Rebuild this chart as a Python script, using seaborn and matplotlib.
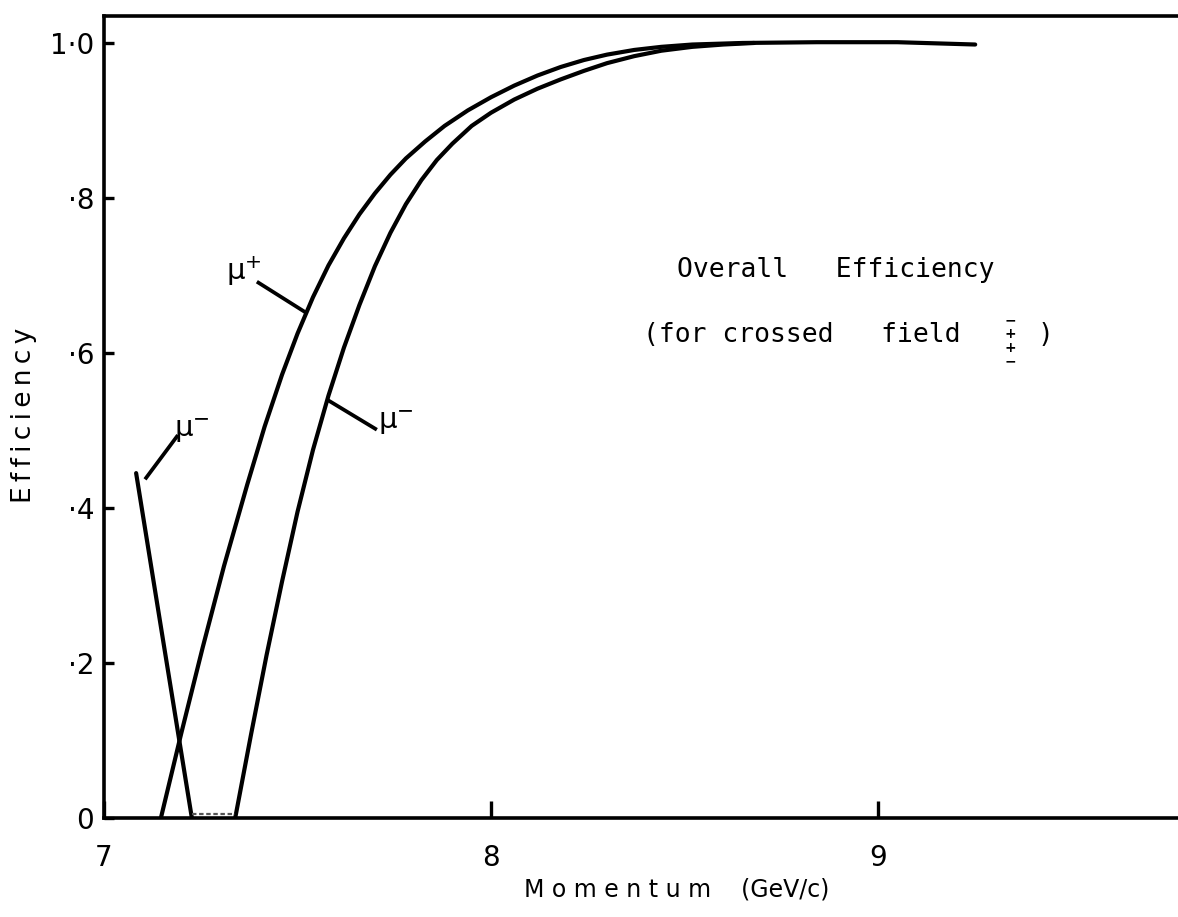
import matplotlib
matplotlib.use("Agg")
import matplotlib.pyplot as plt
import seaborn as sns
import pandas as pd

# Overall efficiency vs momentum for the two muon charges
momentum_mu_plus = [7.147, 7.200, 7.255, 7.310, 7.370, 7.415, 7.460, 7.500, 7.540,
                    7.580, 7.620, 7.660, 7.700, 7.740, 7.780, 7.830, 7.880, 7.940,
                    8.000, 8.060, 8.120, 8.180, 8.240, 8.300, 8.370, 8.440, 8.520,
                    8.650, 8.842, 9.050, 9.251]
eff_mu_plus = [0.000, 0.110, 0.220, 0.325, 0.430, 0.505, 0.572, 0.625, 0.672,
               0.713, 0.748, 0.779, 0.806, 0.830, 0.851, 0.873, 0.893, 0.913,
               0.930, 0.945, 0.958, 0.969, 0.978, 0.985, 0.991, 0.995, 0.998,
               1.000, 1.001, 1.001, 0.998]

momentum_mu_minus = [7.339, 7.380, 7.420, 7.460, 7.500, 7.540, 7.580, 7.620, 7.660,
                     7.700, 7.740, 7.780, 7.820, 7.860, 7.900, 7.950, 8.000, 8.060,
                     8.120, 8.180, 8.240, 8.300, 8.370, 8.440, 8.520, 8.600, 8.680]
eff_mu_minus = [0.000, 0.108, 0.210, 0.305, 0.395, 0.475, 0.545, 0.607, 0.662,
                0.712, 0.755, 0.792, 0.823, 0.849, 0.870, 0.893, 0.910, 0.927,
                0.941, 0.953, 0.964, 0.974, 0.983, 0.990, 0.995, 0.998, 1.000]

# low-momentum branch of the mu- efficiency
momentum_mu_minus_low = [7.083, 7.155, 7.227]
eff_mu_minus_low = [0.445, 0.222, 0.000]

# zero-efficiency gap between the two mu- branches
gap_momentum = [7.227, 7.339]
gap_eff = [0.005, 0.005]

x_ticks = [7, 8, 9]
x_tick_labels = ["7", "8", "9"]
y_ticks = [0.0, 0.2, 0.4, 0.6, 0.8, 1.0]
y_tick_labels = ["0", "\u00b72", "\u00b74", "\u00b76", "\u00b78", "1\u00b70"]

sns.set_style("white")
plt.rcParams["font.family"] = ["DejaVu Sans"]
plt.rcParams["mathtext.fontset"] = "dejavusans"
plt.rcParams["text.color"] = "black"
plt.rcParams["axes.labelcolor"] = "black"
plt.rcParams["xtick.color"] = "black"
plt.rcParams["ytick.color"] = "black"

fig = plt.figure(figsize=(11.78, 9.17), dpi=100)
ax = fig.add_axes([104 / 1178, 99 / 917, 1074 / 1178, 802 / 917])

curves = pd.concat([
    pd.DataFrame({"momentum": momentum_mu_plus, "eff": eff_mu_plus, "curve": "mu+"}),
    pd.DataFrame({"momentum": momentum_mu_minus, "eff": eff_mu_minus, "curve": "mu-"}),
    pd.DataFrame({"momentum": momentum_mu_minus_low, "eff": eff_mu_minus_low, "curve": "mu- low"}),
])
sns.lineplot(data=curves, x="momentum", y="eff", hue="curve", units="curve",
             estimator=None, sort=False, palette=["black"] * 3, linewidth=3.0,
             legend=False, ax=ax)
sns.lineplot(x=gap_momentum, y=gap_eff, color="#555555", linewidth=1.6,
             linestyle=(0, (2, 1.2)), ax=ax)

# leader lines and charge labels
ax.plot([7.395, 7.522], [0.692, 0.652], color="black", lw=2.7, solid_capstyle="butt")
ax.text(7.362, 0.706, r"$\mathregular{\mu^{+}}$", fontsize=21, ha="center", va="center")
ax.plot([7.579, 7.705], [0.539, 0.501], color="black", lw=2.7, solid_capstyle="butt")
ax.text(7.754, 0.510, r"$\mathregular{\mu^{-}}$", fontsize=21, ha="center", va="center")
ax.plot([7.106, 7.191], [0.437, 0.494], color="black", lw=2.7, solid_capstyle="butt")
ax.text(7.228, 0.500, r"$\mathregular{\mu^{-}}$", fontsize=21, ha="center", va="center")

# caption inside the plot
ax.text(8.891, 0.707, "Overall   Efficiency", fontsize=19, family="DejaVu Sans Mono",
        ha="center", va="center")
ax.text(8.393, 0.623, "(for crossed   field", fontsize=19, family="DejaVu Sans Mono",
        ha="left", va="center")
ax.text(9.432, 0.623, ")", fontsize=19, family="DejaVu Sans Mono",
        ha="center", va="center")
ax.text(9.341, 0.6155, "\u2212\n+\n+\n\u2212", fontsize=10, fontweight="bold",
        ha="center", va="center", linespacing=0.95)

ax.set_xlim(7.0, 9.775)
ax.set_ylim(0.0, 1.0348)

ax.set_xticks(x_ticks)
ax.set_xticklabels(x_tick_labels)
ax.set_yticks(y_ticks)
ax.set_yticklabels(y_tick_labels)
ax.tick_params(axis="x", bottom=True, direction="in", length=12, width=2.4, pad=19,
               labelsize=20, color="black", labelcolor="black")
ax.tick_params(axis="y", left=True, direction="in", length=7.5, width=2.4, pad=7,
               labelsize=20, color="black", labelcolor="black")

for side in ["left", "bottom", "top"]:
    ax.spines[side].set_color("black")
    ax.spines[side].set_linewidth(2.6)
ax.spines["right"].set_visible(False)

sp = "\u2009"
ax.set_xlabel("M o m e n t u m    (GeV/c)", fontsize=17, color="black")
ax.xaxis.label.set_va("baseline")
ax.xaxis.set_label_coords(0.5335, -0.0985)
ax.set_ylabel(sp.join("Efficiency"), fontsize=19, color="black")
ax.yaxis.label.set_va("center")
ax.yaxis.set_label_coords(-0.0745, 0.5025)

fig.savefig("out.png", dpi=100, facecolor="white")
